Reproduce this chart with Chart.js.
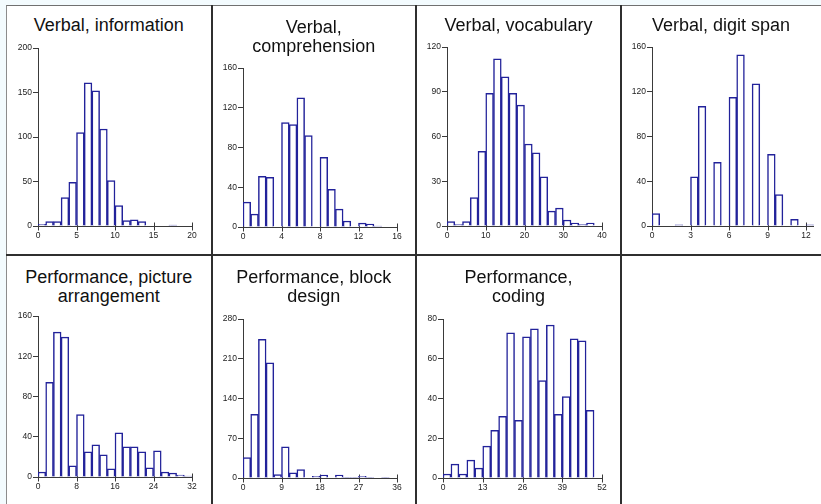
<!DOCTYPE html>
<html>
<head>
<meta charset="utf-8">
<script src="https://cdn.jsdelivr.net/npm/chart.js@4/dist/chart.umd.min.js"></script>
<style>
    body { margin: 0; width: 821px; height: 504px; overflow: hidden; position: relative; background: #f3fbfe; font-family: "Liberation Sans", Arial, sans-serif; }
    #sheet { position: absolute; left: 6px; top: 5px; width: 815px; height: 499px; background: #fff; border-left: 1px solid #8c8c8c; border-top: 1px solid #707070; }
    .rule { position: absolute; background: #2f2f2f; }
    .title { position: absolute; text-align: center; font-size: 18px; line-height: 18.5px; color: #111; white-space: nowrap; }
    .box { position: absolute; }
    .box canvas { display: block; }
</style>
</head>
<body>
<div id="sheet"></div>
<div class="rule" style="left:211px; top:5px; width:2px; height:499px;"></div>
<div class="rule" style="left:415px; top:5px; width:2px; height:499px;"></div>
<div class="rule" style="left:620px; top:5px; width:2px; height:499px;"></div>
<div class="rule" style="left:6px; top:254px; width:815px; height:2px;"></div>

<script>
// counts per bin
const infoCounts    = [2, 5, 5, 32, 49, 105, 161, 152, 109, 51, 23, 6, 7, 5, 0, 0, 0, 1, 0, 0];
const compCounts    = [25, 13, 51, 50, 0, 105, 103, 130, 92, 0, 70, 38, 18, 6, 0, 4, 3, 1, 0, 0];
const vocabCounts   = [3, 1, 3, 19, 50, 89, 112, 100, 89, 81, 55, 49, 33, 10, 12, 4, 2, 1, 2, 0];
const digitCounts   = [11, 0, 0, 1, 0, 44, 107, 0, 57, 0, 115, 153, 0, 127, 0, 64, 28, 0, 6, 0, 1];
const pictureCounts = [5, 94, 144, 139, 11, 62, 25, 32, 22, 8, 44, 30, 30, 25, 9, 26, 5, 4, 2, 1];
const blockCounts   = [36, 112, 244, 203, 6, 55, 9, 15, 0, 3, 5, 0, 5, 1, 1, 3, 1, 0, 1, 0];
const codingCounts  = [2, 7, 2, 9, 5, 16, 24, 31, 73, 29, 71, 75, 49, 77, 32, 41, 70, 69, 34, 0];

// bin widths
const infoBin = 1, compBin = 0.8, vocabBin = 2, digitBin = 0.6, pictureBin = 1.6, blockBin = 1.8, codingBin = 2.6;

// tick labels
const infoXTicks    = [0, 5, 10, 15, 20],   infoYTicks    = [0, 50, 100, 150, 200];
const compXTicks    = [0, 4, 8, 12, 16],    compYTicks    = [0, 40, 80, 120, 160];
const vocabXTicks   = [0, 10, 20, 30, 40],  vocabYTicks   = [0, 30, 60, 90, 120];
const digitXTicks   = [0, 3, 6, 9, 12],     digitYTicks   = [0, 40, 80, 120, 160];
const pictureXTicks = [0, 8, 16, 24, 32],   pictureYTicks = [0, 40, 80, 120, 160];
const blockXTicks   = [0, 9, 18, 27, 36],   blockYTicks   = [0, 70, 140, 210, 280];
const codingXTicks  = [0, 13, 26, 39, 52],  codingYTicks  = [0, 20, 40, 60, 80];

const panels = [
    { title: ['Verbal, information'], counts: infoCounts, bin: infoBin, xTicks: infoXTicks, yTicks: infoYTicks },
    { title: ['Verbal,', 'comprehension'], counts: compCounts, bin: compBin, xTicks: compXTicks, yTicks: compYTicks },
    { title: ['Verbal, vocabulary'], counts: vocabCounts, bin: vocabBin, xTicks: vocabXTicks, yTicks: vocabYTicks },
    { title: ['Verbal, digit span'], counts: digitCounts, bin: digitBin, xTicks: digitXTicks, yTicks: digitYTicks },
    { title: ['Performance, picture', 'arrangement'], counts: pictureCounts, bin: pictureBin, xTicks: pictureXTicks, yTicks: pictureYTicks },
    { title: ['Performance, block', 'design'], counts: blockCounts, bin: blockBin, xTicks: blockXTicks, yTicks: blockYTicks },
    { title: ['Performance,', 'coding'], counts: codingCounts, bin: codingBin, xTicks: codingXTicks, yTicks: codingYTicks }
];

// where each plot sits on the page
const layout = [
    { cx: 108.7, rowTop: 5,   axisX: 38,  right: 192, y0: 226, yTop: 48 },
    { cx: 313.7, rowTop: 5,   axisX: 243, right: 397, y0: 227, yTop: 68 },
    { cx: 518.5, rowTop: 5,   axisX: 447, right: 602, y0: 226, yTop: 47 },
    { cx: 721,   rowTop: 5,   axisX: 652, right: 806, y0: 226, yTop: 47 },
    { cx: 108.7, rowTop: 255, axisX: 38,  right: 192, y0: 477, yTop: 316 },
    { cx: 313.7, rowTop: 255, axisX: 243, right: 397, y0: 478, yTop: 319 },
    { cx: 518.5, rowTop: 255, axisX: 443, right: 602, y0: 478, yTop: 319 }
];

const Y_AXIS_W = 34, X_AXIS_H = 18, PAD_RIGHT = 14, BOX_H = 248;
const TICK_FONT = { family: '"Liberation Sans", Arial, sans-serif', size: 8.5 };

// x ticks cross the axis line; bars are drawn over the upper half
const crossTicks = {
    id: 'crossTicks',
    beforeDatasetsDraw(chart) {
        const xs = chart.scales.x;
        const y = Math.round(chart.chartArea.bottom) + 0.5;
        const ctx = chart.ctx;
        ctx.save();
        ctx.strokeStyle = '#3a3a3a';
        ctx.lineWidth = 1;
        xs.ticks.forEach(t => {
            const px = Math.round(xs.getPixelForValue(t.value)) + 0.5;
            ctx.beginPath();
            ctx.moveTo(px, y - 4);
            ctx.lineTo(px, y + 4);
            ctx.stroke();
        });
        ctx.restore();
    }
};

panels.forEach((p, i) => {
    const L = layout[i];
    const lastTick = p.xTicks[p.xTicks.length - 1];
    const xMax = Math.max(lastTick, +(p.counts.length * p.bin).toFixed(4));
    const plotW = (L.right - L.axisX) * xMax / lastTick;
    const W = Math.ceil(Y_AXIS_W + plotW + PAD_RIGHT);

    // title
    const t = document.createElement('div');
    t.className = 'title';
    t.style.width = '220px';
    t.style.left = (L.cx - 110) + 'px';
    t.style.top = (L.rowTop + (p.title.length > 1 ? 13 : 10.7)) + 'px';
    t.innerHTML = p.title.join('<br>');
    document.body.appendChild(t);

    const box = document.createElement('div');
    box.className = 'box';
    box.style.left = (L.axisX - Y_AXIS_W) + 'px';
    box.style.top = L.rowTop + 'px';
    const canvas = document.createElement('canvas');
    canvas.width = W;
    canvas.height = BOX_H;
    box.appendChild(canvas);
    document.body.appendChild(box);

    const data = p.counts.map((c, k) => ({ x: (k + 0.5) * p.bin, y: c }));

    new Chart(canvas.getContext('2d'), {
        type: 'bar',
        data: {
            datasets: [{
                data: data,
                backgroundColor: '#ffffff',
                borderColor: '#22229a',
                borderWidth: 1.5,
                barPercentage: 1,
                categoryPercentage: 1
            }]
        },
        options: {
            responsive: false,
            animation: false,
            devicePixelRatio: 1,
            layout: {
                padding: {
                    left: 0,
                    top: L.yTop - L.rowTop,
                    right: W - Y_AXIS_W - plotW,
                    bottom: L.rowTop + BOX_H - L.y0 - X_AXIS_H
                }
            },
            plugins: { legend: { display: false }, tooltip: { enabled: false } },
            scales: {
                x: {
                    type: 'linear',
                    offset: false,
                    min: 0,
                    max: xMax,
                    grid: { display: false, drawTicks: false, tickLength: 0, offset: false },
                    border: { display: true, color: '#3a3a3a', width: 1 },
                    afterBuildTicks: s => { s.ticks = p.xTicks.map(v => ({ value: v })); },
                    afterFit: s => { s.height = X_AXIS_H; },
                    ticks: {
                        autoSkip: false,
                        maxRotation: 0,
                        padding: 5,
                        color: '#222',
                        font: TICK_FONT
                    }
                },
                y: {
                    min: 0,
                    max: p.yTicks[p.yTicks.length - 1],
                    grid: { drawOnChartArea: false, drawTicks: true, tickLength: 5, color: '#3a3a3a' },
                    border: { display: true, color: '#3a3a3a', width: 1 },
                    afterBuildTicks: s => { s.ticks = p.yTicks.map(v => ({ value: v })); },
                    afterFit: s => { s.width = Y_AXIS_W; },
                    ticks: {
                        padding: 1,
                        color: '#222',
                        font: TICK_FONT
                    }
                }
            }
        },
        plugins: [crossTicks]
    });
});
</script>
</body>
</html>
